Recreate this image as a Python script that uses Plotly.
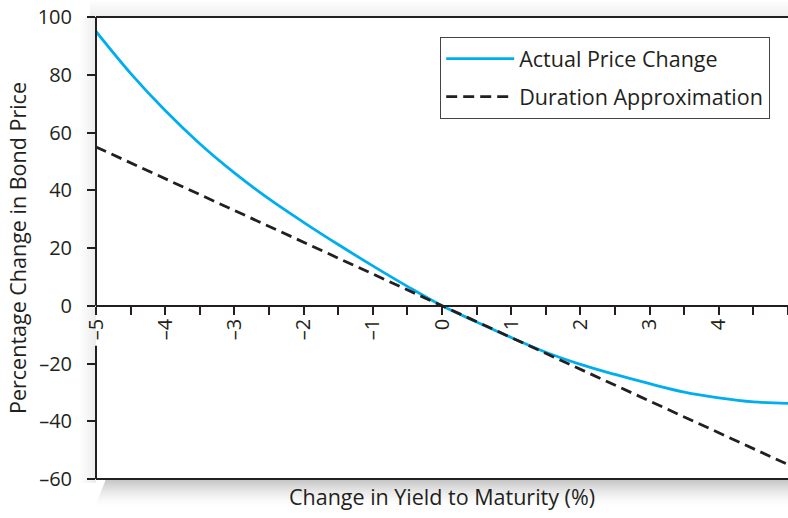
import plotly.graph_objects as go

# ---------------- data ----------------
yield_change = [-5.0, -4.5, -4.0, -3.5, -3.0, -2.5, -2.0, -1.5, -1.0, -0.5, 0.0,
                0.5, 1.0, 1.5, 2.0, 2.5, 3.0, 3.5, 4.0, 4.5, 5.0]
actual_price_change = [95.0, 80.5, 67.6, 56.1, 46.0, 37.0, 28.9, 21.2, 13.8, 6.7, 0.0,
                       -5.6, -11.0, -16.1, -20.3, -23.8, -27.0, -29.9, -31.9, -33.3, -33.8]
duration_yield = [-5.0, 0.0, 5.0]
duration_approx = [55.0, 0.0, -55.0]

x_tick_vals = [-5.0, -4.5, -4.0, -3.5, -3.0, -2.5, -2.0, -1.5, -1.0, -0.5, 0.0,
               0.5, 1.0, 1.5, 2.0, 2.5, 3.0, 3.5, 4.0, 4.5, 5.0]
x_tick_text = ["\u20135", "", "\u20134", "", "\u20133", "", "\u20132", "", "\u20131", "", "0",
               "", "1", "", "2", "", "3", "", "4", "", "5"]
y_tick_vals = [-60, -40, -20, 0, 20, 40, 60, 80, 100]
y_tick_text = ["\u201360", "\u201340", "\u201320", "0", "20", "40", "60", "80", "100"]

# ---------------- style ----------------
W, H = 788, 518
ML, MR, MT, MB = 96, 0, 17, 39
PW, PH = W - ML - MR, H - MT - MB
DARK = "#231f20"
BLUE = "#00aeef"
FONT = "Open Sans"
ZERO_POS = 60 / 160  # where y = 0 sits inside the plotting box

def px_x(p):
    return p / PW

def px_y(p):
    return p / PH

fig = go.Figure()
fig.add_trace(go.Scatter(
    x=yield_change, y=actual_price_change, mode="lines",
    name="Actual Price Change", legendgroup="a",
    line=dict(color=BLUE, width=2.8, shape="spline", smoothing=1.0),
))
fig.add_trace(go.Scatter(
    x=duration_yield, y=duration_approx, mode="lines",
    name="Duration Approximation", legendgroup="b",
    line=dict(color=DARK, width=2.8, dash="11px,6px"),
))

# drop shadow around the plotting box, built from thin gradient bands
shapes = []
NB = 14
for j in range(NB):
    t = 1 - j / NB
    g = int(round(255 - 62 * t ** 1.6))
    shapes.append(dict(type="rect", xref="paper", yref="paper", layer="below",
                       x0=px_x(10 - j * 0.8), x1=1.1,
                       y0=-px_y(2 * (j + 1)), y1=-px_y(2 * j) + 0.002,
                       fillcolor=f"rgb({g},{g},{g})", line=dict(width=0)))
NT = 8
for j in range(NT):
    t = 1 - j / NT
    g = int(round(255 - 16 * t))
    shapes.append(dict(type="rect", xref="paper", yref="paper", layer="below",
                       x0=-px_x(6), x1=1.1,
                       y0=1 + px_y(2 * j), y1=1 + px_y(2 * (j + 1)),
                       fillcolor=f"rgb({g},{g},{g})", line=dict(width=0)))
NL = 8
for j in range(NL):
    t = 1 - j / NL
    g = int(round(255 - 18 * t))
    shapes.append(dict(type="rect", xref="paper", yref="paper", layer="below",
                       x0=-px_x(2 * (j + 1)), x1=-px_x(2 * j),
                       y0=-px_y(4), y1=1,
                       fillcolor=f"rgb({g},{g},{g})", line=dict(width=0)))
# white plotting box over the shadow
shapes.append(dict(type="rect", xref="paper", yref="paper", layer="below",
                   x0=0, x1=1.1, y0=0, y1=1, fillcolor="white", line=dict(width=0)))
# frame of the plotting box: top, bottom, and left (interrupted under the "-5" label)
frame = dict(color=DARK, width=2)
shapes.append(dict(type="line", xref="paper", yref="paper", layer="above",
                   x0=0, x1=1.05, y0=1, y1=1, line=frame))
shapes.append(dict(type="line", xref="paper", yref="paper", layer="above",
                   x0=0, x1=1.05, y0=0, y1=0, line=frame))
shapes.append(dict(type="line", xref="paper", yref="paper", layer="above",
                   x0=0, x1=0, y0=ZERO_POS, y1=1, line=frame))
shapes.append(dict(type="line", xref="paper", yref="paper", layer="above",
                   x0=0, x1=0, y0=0, y1=ZERO_POS - px_y(40), line=frame))

fig.update_layout(
    width=W, height=H,
    margin=dict(l=ML, r=MR, t=MT, b=MB, autoexpand=False),
    paper_bgcolor="white", plot_bgcolor="white",
    font=dict(family=FONT, color=DARK, size=20),
    shapes=shapes,
    showlegend=True,
    legend=dict(
        x=(440 - ML) / PW, y=(H - MB - 37) / PH, xanchor="left", yanchor="top",
        bgcolor="white", bordercolor="#444", borderwidth=1.2,
        font=dict(family=FONT, size=21.5, color=DARK),
        tracegroupgap=7, itemwidth=68,
    ),
    xaxis=dict(
        range=[-5, 5], domain=[0, 1], anchor="free", position=ZERO_POS,
        showline=True, linecolor=DARK, linewidth=2,
        ticks="outside", ticklen=8, tickwidth=2, tickcolor=DARK,
        tickmode="array", tickvals=x_tick_vals, ticktext=x_tick_text,
        tickangle=-90, tickfont=dict(family=FONT, size=20, color=DARK),
        ticklabelstandoff=-4,
        showgrid=False, zeroline=False, automargin=False,
        title=dict(text="Change in Yield to Maturity (%)", standoff=150,
                   font=dict(family=FONT, size=21.5, color=DARK)),
    ),
    xaxis2=dict(
        range=[-5, 5], overlaying="x", anchor="free", position=ZERO_POS,
        ticks="inside", ticklen=8, tickwidth=2, tickcolor=DARK,
        tickmode="array", tickvals=x_tick_vals, showticklabels=False,
        showline=False, showgrid=False, zeroline=False, automargin=False,
    ),
    yaxis=dict(
        range=[-60, 100], showline=False,
        ticks="outside", ticklen=8, tickwidth=2, tickcolor=DARK,
        tickmode="array", tickvals=y_tick_vals, ticktext=y_tick_text,
        tickfont=dict(family=FONT, size=20, color=DARK),
        ticklabelstandoff=11,
        showgrid=False, zeroline=False, automargin=False,
        title=dict(text="Percentage Change in Bond Price", standoff=5,
                   font=dict(family=FONT, size=21.5, color=DARK)),
    ),
)

fig.write_html(
    "out.html",
    config={"displayModeBar": False},
    post_script="document.body.style.margin='0';document.body.style.overflow='hidden';",
)
